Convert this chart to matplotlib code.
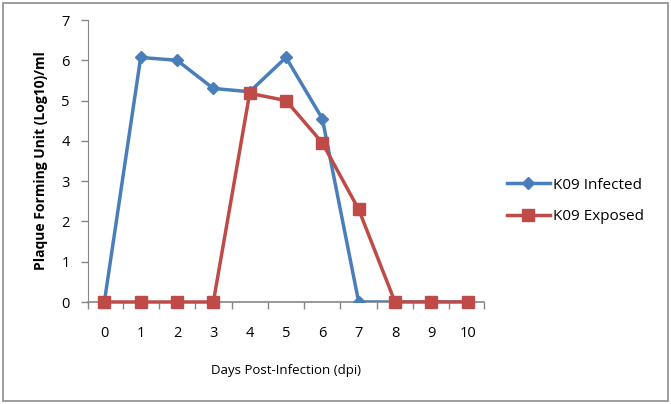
import matplotlib
matplotlib.use("Agg")
import matplotlib.pyplot as plt
from matplotlib.patches import Rectangle
from matplotlib.lines import Line2D

days = [0, 1, 2, 3, 4, 5, 6, 7, 8, 9, 10]
infected = [0, 6.07, 6.0, 5.3, 5.22, 6.07, 4.55, 0, 0, 0, 0]
exposed = [0, 0, 0, 0, 5.18, 5.0, 3.95, 2.3, 0, 0, 0]
series_names = ["K09 Infected", "K09 Exposed"]

blue = "#4a7ebb"
red = "#be4b48"

plt.rcParams['font.family'] = ['Open Sans', 'DejaVu Sans']

fig = plt.figure(figsize=(6.71, 4.04), dpi=100)
fig.patches.append(Rectangle((0.004, 0.008), 0.992, 0.985, transform=fig.transFigure,
                             fill=False, edgecolor="#8c8c8c", linewidth=1.2))
ax = fig.add_axes([88/671, 1-302/404, (484-88)/671, (302-20)/404])

ax.plot(days, infected, color=blue, linewidth=2.5, marker="D", markersize=6,
        markerfacecolor=blue, markeredgecolor=blue, label=series_names[0], zorder=3)
ax.plot(days, exposed, color=red, linewidth=2.5, marker="s", markersize=9,
        markerfacecolor=red, markeredgecolor=red, label=series_names[1], zorder=4, clip_on=False)

ax.set_xlim(-0.45, 10.45)
ax.set_ylim(0, 7)
ax.set_yticks(range(0, 8))
ax.set_xticks(days)
ax.set_xticks([d + 0.5 for d in days[:-1]] + [-0.45, 10.45], minor=True)
ax.tick_params(axis='x', which='major', length=0, pad=17, labelsize=10.5)
ax.tick_params(axis='x', which='minor', length=5, width=1, color="#868686", direction='out')
ax.tick_params(axis='y', length=5, width=1, color="#868686", labelsize=10.5, pad=8)

for s in ["top", "right"]:
    ax.spines[s].set_visible(False)
ax.spines["left"].set_color("#868686")
ax.spines["bottom"].set_color("#868686")
ax.spines["bottom"].set_linewidth(1.2)

ax.set_xlabel("Days Post-Infection (dpi)", fontsize=9.5, labelpad=17)
ax.set_ylabel("Plaque Forming Unit (Log10)/ml", fontsize=10, fontweight="bold", labelpad=10)

handles = [Line2D([], [], color=blue, linewidth=2.5, marker="D", markersize=6),
           Line2D([], [], color=red, linewidth=2.5, marker="s", markersize=9)]
fig.legend(handles, series_names, loc="center left", bbox_to_anchor=(493/671, 1-201/404),
           frameon=False, fontsize=11, handlelength=2.8, handletextpad=0.2, labelspacing=1.1)

fig.savefig("out.png", dpi=100)
